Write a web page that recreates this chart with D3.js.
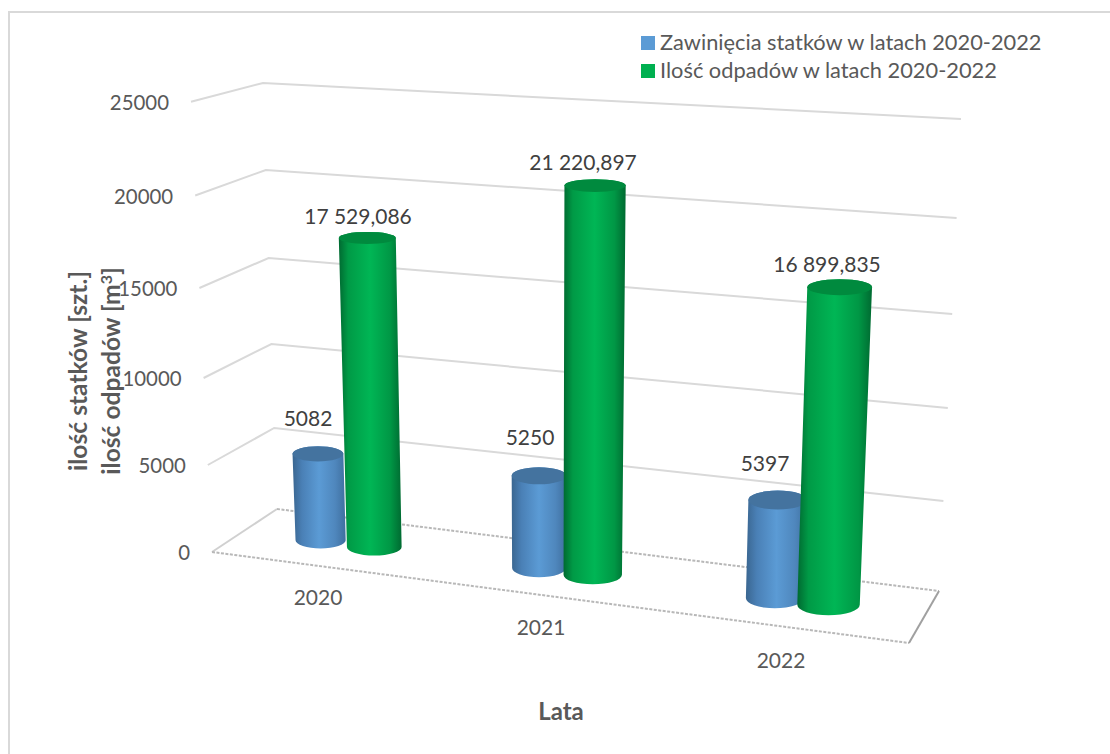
<!DOCTYPE html>
<html><head><meta charset="utf-8">
<style>html,body{margin:0;padding:0;background:#fff}svg{display:block}text{font-family:Lato,"Noto Sans",sans-serif}</style>
<script src="https://cdn.jsdelivr.net/npm/d3@7"></script></head><body>
<svg id="c" width="1110" height="754"></svg>
<script>
const years = ["2020","2021","2022"];
const seriesNames = ["Zawinięcia statków w latach 2020-2022","Ilość odpadów w latach 2020-2022"];
const ships = [5082,5250,5397];
const waste = [17529.086,21220.897,16899.835];
const shipLabels = ["5082","5250","5397"];
const wasteLabels = ["17 529,086","21 220,897","16 899,835"];
const ticks = [0,5000,10000,15000,20000,25000];

const svg = d3.select("#c");
const defs = svg.append("defs");

// Edges of the 3D box as screen positions by value (perspective makes the steps uneven)
const V=[0,25000];
const fl={x:d3.scaleLinear(V,[212,191]),y:d3.scaleLinear(ticks,[552,465,378,288,195.5,101.7])};
const bl={x:d3.scaleLinear(V,[277,263]),y:d3.scaleLinear(ticks,[509,428,344,258,170,83])};
const br={x:d3.scaleLinear(V,[939,961]),y:d3.scaleLinear(ticks,[591,501,408,314,218,119])};
const fr={x:d3.scaleLinear(V,[909,931]),y:d3.scaleLinear(ticks,[643,548,450,351,250,146])};
function proj(u,d,v){
  const l=t=>(1-d)*((1-u)*fl[t](v)+u*fr[t](v))+d*((1-u)*bl[t](v)+u*br[t](v));
  return [l("x"),l("y")];
}
const catU=d3.scalePoint(years,[1/6,5/6]);
const warp=d3.scaleLinear([1/6,1/2,5/6],[.1515,.473,.82]);
const serU=d3.scalePoint([0,1],[-.0395,.0395]);
const rx=d3.scaleLinear([.1,.87],[25,29.5]);
const ryBase=d3.scaleLinear([0,1],[8,10.8]);
const ryDrop=d3.scaleLinear([0,21000],[0,3]);

const frame=svg.append("g").attr("fill","none").attr("stroke","#d9d9d9");
frame.append("path").attr("d",d3.line()([[9,754],[9,12],[1110,12]])).attr("stroke-width",2);

// gridlines
const gl=svg.append("g").attr("fill","none").attr("stroke","#d9d9d9").attr("stroke-width",2);
ticks.slice(1).forEach(t=>{
  gl.append("path").attr("d",d3.line()([[fl.x(t),fl.y(t)],[bl.x(t),bl.y(t)],[br.x(t),br.y(t)]]));
});
// floor
const fg=svg.append("g").attr("fill","none");
const P=(u,d)=>proj(u,d,0);
fg.append("path").attr("d",d3.line()([P(0,0),P(0,1)])).attr("stroke","#d0d0d0").attr("stroke-width",2);
fg.append("path").attr("d",d3.line()([P(0,1),P(1,1)])).attr("stroke","#b8b8b8").attr("stroke-width",2).attr("stroke-dasharray","3 1.5");
fg.append("path").attr("d",d3.line()([P(0,0),P(1,0)])).attr("stroke","#b8b8b8").attr("stroke-width",2).attr("stroke-dasharray","3 1.5");
fg.append("path").attr("d",d3.line()([P(1,1),P(1,0)])).attr("stroke","#a0a0a0").attr("stroke-width",2);

// gradients
function grad(id,stops){
  const g=defs.append("linearGradient").attr("id",id).attr("x1",0).attr("x2",1).attr("y1",0).attr("y2",0);
  stops.forEach(s=>g.append("stop").attr("offset",s[0]).attr("stop-color",s[1]));
}
grad("gBlue",[[0,"#3a6690"],[.18,"#4a80b6"],[.5,"#5b9bd5"],[.8,"#4f87bd"],[1,"#3f6f9f"]]);
grad("gGreen",[[0,"#006a31"],[.15,"#009a46"],[.5,"#00b655"],[.82,"#009745"],[1,"#006a31"]]);
const tops=["#44739f","#008a3e"], fills=["url(#gBlue)","url(#gGreen)"];

function bar(g,i,s,v){
  const u=warp(catU(years[i]))+serU(s);
  const [bx,by]=proj(u,.5,0), [tx,ty]=proj(u,.5,v);
  const rb=rx(u)+s*1.8, rt=rb+v/15000;
  const ryb=ryBase(u), ryt=ryBase(u)-ryDrop(v);
  const body=`M${tx-rt},${ty}L${bx-rb},${by}A${rb},${ryb} 0 0 0 ${bx+rb},${by}L${tx+rt},${ty}A${rt},${ryt} 0 0 0 ${tx-rt},${ty}Z`;
  g.append("path").attr("d",body).attr("fill",fills[s]);
  g.append("ellipse").attr("cx",tx).attr("cy",ty).attr("rx",rt).attr("ry",ryt).attr("fill",tops[s]);
}
const bg=svg.append("g");
years.forEach((y,i)=>{bar(bg,i,0,ships[i]);bar(bg,i,1,waste[i]);});

// text
const tc="#595959";
const T=(x,y,s,o={})=>svg.append("text").attr("x",x).attr("y",y).attr("fill",o.fill||tc)
  .attr("font-size",o.size||21).attr("font-weight",o.weight||400).attr("text-anchor",o.anchor||"middle").text(s);
// value-axis tick labels sit left of the front-left edge
ticks.forEach(t=>T(fl.x(t)-22,fl.y(t)+8,String(t),{anchor:"end",size:20.4}));
// category labels
const catPos=[[318,605],[541,635],[781,668]];
years.forEach((y,i)=>T(catPos[i][0],catPos[i][1],y));
// data labels
const lab=[[308,426],[530,445],[765,471]], labW=[[358,224],[583,170],[827,272]];
shipLabels.forEach((s,i)=>T(lab[i][0],lab[i][1],s,{fill:"#404040"}));
wasteLabels.forEach((s,i)=>T(labW[i][0],labW[i][1],s,{fill:"#404040"}));
// axis titles
T(561,720,"Lata",{weight:700,size:24});
svg.append("text").attr("transform","translate(87,371) rotate(-90)").attr("text-anchor","middle").attr("font-size",24.6).attr("font-weight",700).attr("fill",tc).text("ilość statków [szt.]");
const yt2=svg.append("text").attr("transform","translate(120,371) rotate(-90)").attr("text-anchor","middle").attr("font-size",24.6).attr("font-weight",700).attr("fill",tc);
yt2.append("tspan").text("ilość odpadów [m");
yt2.append("tspan").attr("dy",-8).attr("font-size",16).text("3");
yt2.append("tspan").attr("dy",8).text("]");
// legend
const leg=[["#5b9bd5",50],["#00b050",78]];
seriesNames.forEach((n,i)=>{
  svg.append("rect").attr("x",641).attr("y",36+i*28).attr("width",14).attr("height",14).attr("fill",leg[i][0]);
  T(660,leg[i][1],n,{anchor:"start",size:21.8});
});
</script></body></html>
